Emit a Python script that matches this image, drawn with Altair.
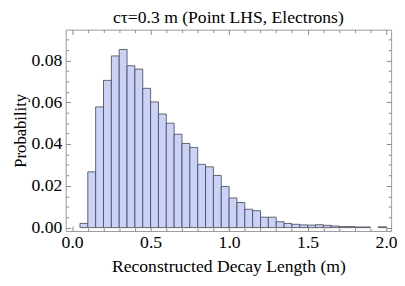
import altair as alt
import pandas as pd

bin_start = [0.05, 0.10, 0.15, 0.20, 0.25, 0.30, 0.35, 0.40, 0.45, 0.50,
             0.55, 0.60, 0.65, 0.70, 0.75, 0.80, 0.85, 0.90, 0.95, 1.00,
             1.05, 1.10, 1.15, 1.20, 1.25, 1.30, 1.35, 1.40, 1.45, 1.50,
             1.55, 1.60, 1.65, 1.70, 1.75, 1.80, 1.85, 1.95]
bin_width = 0.05
probability = [0.0020, 0.0267, 0.0578, 0.0705, 0.0822, 0.0853, 0.0775, 0.0759, 0.0667, 0.0602,
               0.0544, 0.0500, 0.0447, 0.0403, 0.0384, 0.0303, 0.0291, 0.0250, 0.0197, 0.0142,
               0.0120, 0.0088, 0.0081, 0.0050, 0.0050, 0.0028, 0.0020, 0.0016, 0.0013, 0.0012,
               0.0014, 0.0011, 0.0008, 0.0005, 0.0005, 0.0003, 0.0003, 0.0004]

x_major = [0.0, 0.5, 1.0, 1.5, 2.0]
x_minor = [0.1, 0.2, 0.3, 0.4, 0.6, 0.7, 0.8, 0.9, 1.1, 1.2, 1.3, 1.4, 1.6, 1.7, 1.8, 1.9]
y_major = [0.00, 0.02, 0.04, 0.06, 0.08]
y_minor = [0.005, 0.010, 0.015, 0.025, 0.030, 0.035, 0.045, 0.050, 0.055,
           0.065, 0.070, 0.075, 0.085, 0.090]

df = pd.DataFrame({"x0": bin_start, "p": probability})
df["x1"] = df["x0"] + bin_width

FONT = "Liberation Serif"
xs = alt.Scale(domain=[-0.041, 2.032], nice=False, zero=False)
ys = alt.Scale(domain=[-0.0016, 0.0948], nice=False, zero=False)

bars = alt.Chart(df).mark_rect(
    fill="#cbd2f7", stroke="#4a4a55", strokeWidth=1, strokeOpacity=0.85
).encode(
    x=alt.X("x0:Q", scale=xs, axis=alt.Axis(
        values=x_major, format=".1f", ticks=False, domain=False, grid=False,
        title="Reconstructed Decay Length (m)", labelFont=FONT, titleFont=FONT,
        labelFontSize=18, titleFontSize=18, titleFontWeight="normal",
        labelColor="black", titleColor="black", labelPadding=3, titlePadding=6,
        labelFlush=False)),
    x2="x1:Q",
    y=alt.Y("p:Q", scale=ys, axis=alt.Axis(
        values=y_major, format=".2f", ticks=False, domain=False, grid=False,
        title="Probability", labelFont=FONT, titleFont=FONT,
        labelFontSize=18, titleFontSize=17, titleFontWeight="normal",
        labelColor="black", titleColor="black", labelPadding=4, titlePadding=2,
        labelFlush=False)),
    y2=alt.Y2(datum=0),
)


def tick_layer(xvals, yvals, xorient, yorient, size):
    ax = alt.Axis(values=xvals, orient=xorient, labels=False, title=None, domain=False,
                  grid=False, ticks=True, tickSize=size, offset=-size,
                  tickColor="#888888", tickWidth=1)
    ay = alt.Axis(values=yvals, orient=yorient, labels=False, title=None, domain=False,
                  grid=False, ticks=True, tickSize=size, offset=-size,
                  tickColor="#888888", tickWidth=1)
    return alt.Chart(df).mark_point(opacity=0).encode(
        x=alt.X("x0:Q", scale=xs, axis=ax),
        y=alt.Y("p:Q", scale=ys, axis=ay),
    )


chart = alt.layer(
    bars,
    tick_layer(x_major, y_major, "bottom", "left", 5),
    tick_layer(x_minor, y_minor, "bottom", "left", 3),
    tick_layer(x_major, y_major, "top", "right", 5),
    tick_layer(x_minor, y_minor, "top", "right", 3),
).resolve_axis(x="independent", y="independent").properties(
    width=333, height=206,
    title=alt.Title("cτ=0.3 m (Point LHS, Electrons)", font=FONT, fontSize=18,
                    fontWeight="normal", color="black", anchor="middle", offset=2),
    autosize=alt.AutoSizeParams(type="none"),
    padding={"left": 59, "top": 19, "right": 6, "bottom": 45},
).configure_view(stroke="#999999", strokeWidth=1)

chart.save("out.html", embed_options={"renderer": "svg", "actions": False})
